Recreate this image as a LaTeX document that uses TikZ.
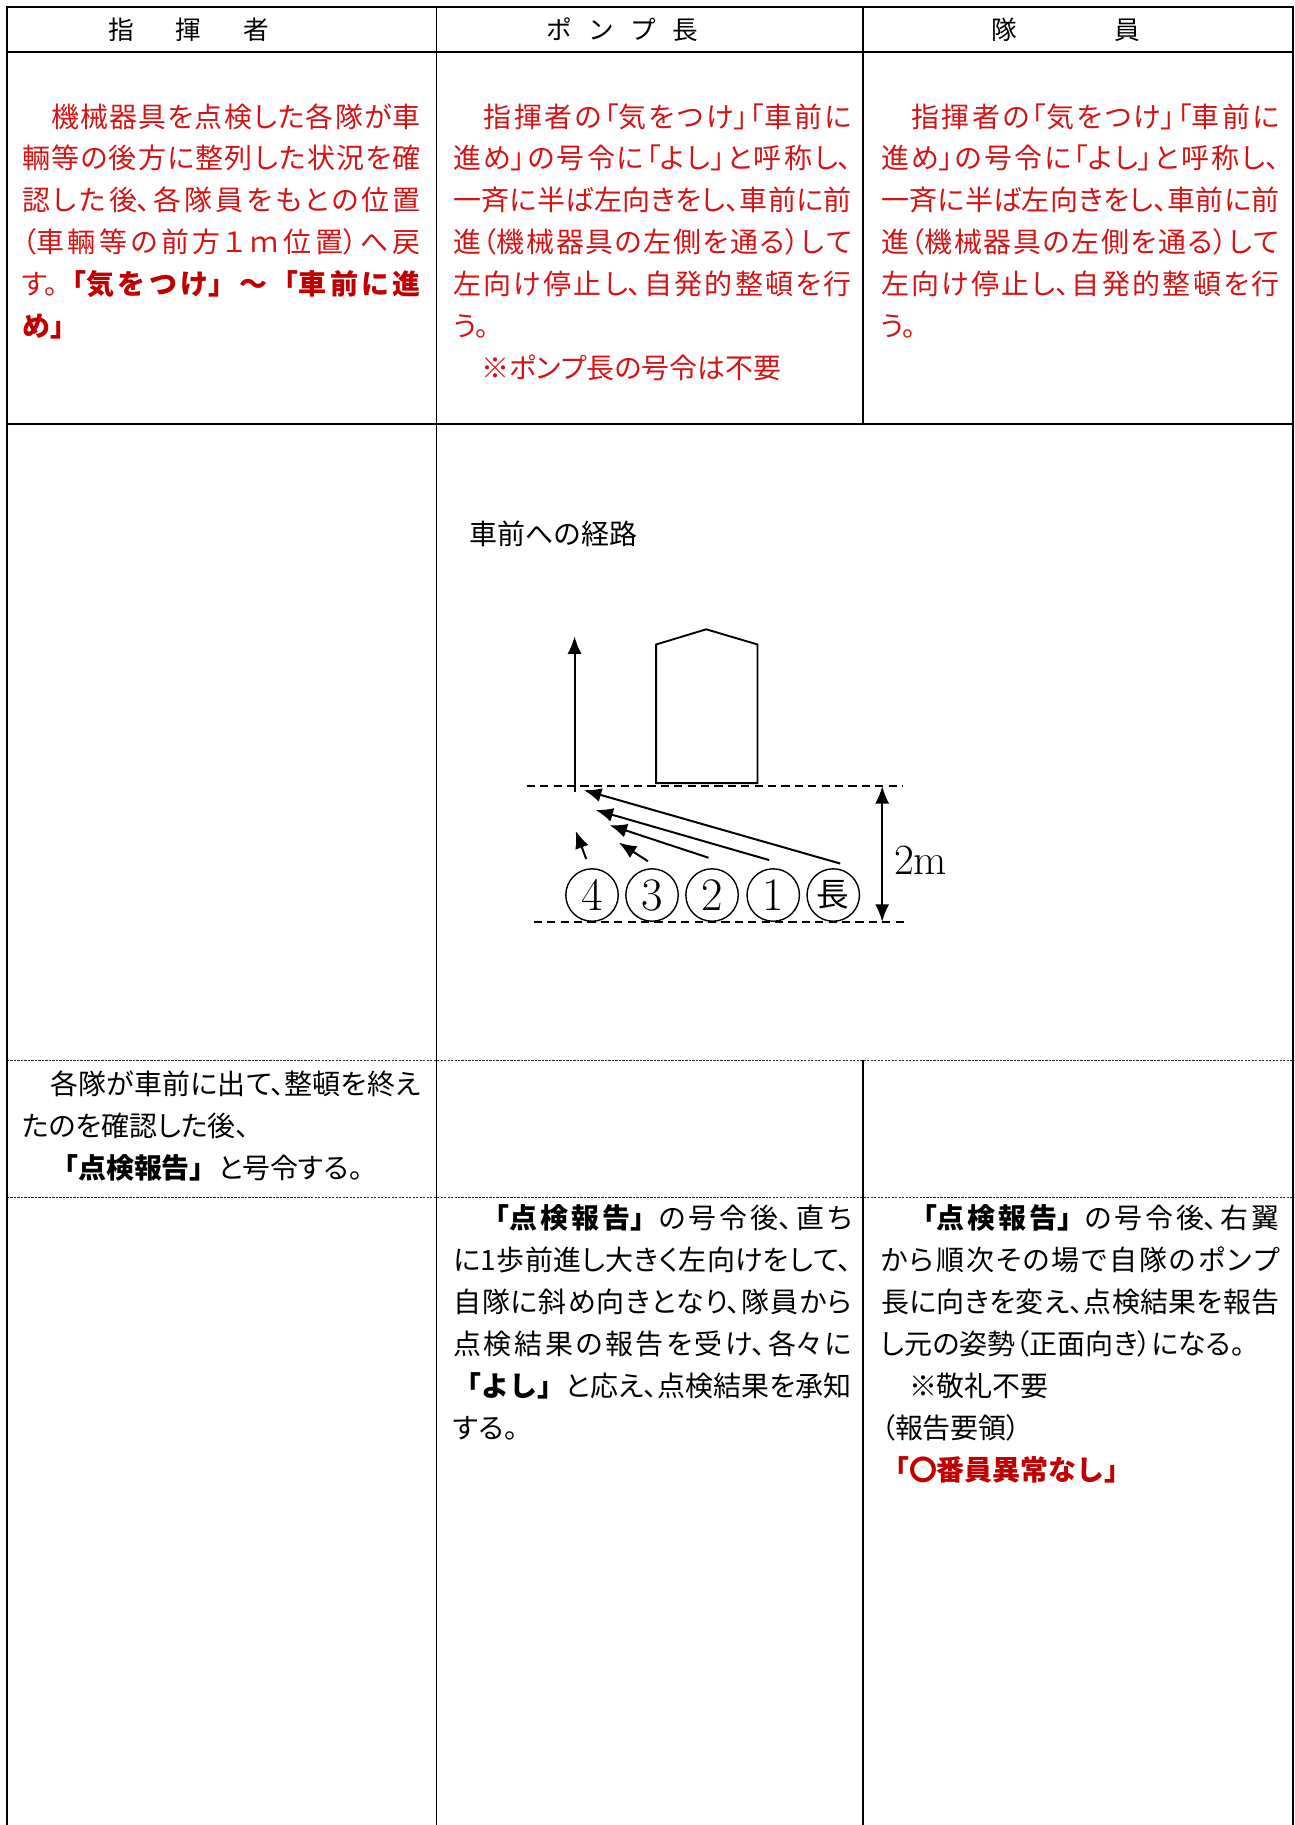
\documentclass[tikz,border=0pt]{standalone}
\usepackage{fontspec}
\usetikzlibrary{arrows.meta}
\newfontfamily\jp{Noto Sans CJK JP}[RawFeature=+palt]
\newfontfamily\jpf{Noto Sans CJK JP}
\definecolor{txtred}{RGB}{212,20,20}
\definecolor{bred}{RGB}{192,0,0}
\newcommand\bd[1]{{\jpf\bfseries #1}}
\newcommand\jpsetup{\jp\fontsize{24}{36}\selectfont
  \XeTeXlinebreaklocale "ja"\XeTeXlinebreakskip=0pt plus 8pt\relax
  \XeTeXlinebreakpenalty=10000\relax
  \parindent=0pt\parfillskip=0pt\leftskip=0pt\rightskip=0pt
  \tolerance=10000\hbadness=10000\hfuzz=60pt\lineskiplimit=-100pt}
\newcommand\JL[1]{#1\par}
\newcommand\LL[1]{#1\hfill\mbox{}\par}
\tikzset{
  body/.style={anchor=base west, inner sep=0pt, outer sep=0pt, text width=342pt},
  grid/.style={line width=1.6pt},
  sep/.style={line width=0.7pt, dash pattern=on 2pt off 1pt, black!85},
  dline/.style={line width=1.2pt, dash pattern=on 7pt off 4.5pt},
  arr/.style={line width=1.7pt, -{Latex[length=15pt,width=12pt]}},
  mem/.style={circle, draw, line width=1.2pt, minimum size=45pt, inner sep=0pt},
  head/.style={anchor=base, inner sep=0pt, font=\jpf\fontsize{22}{22}\selectfont}
}
\begin{document}
\begin{tikzpicture}[x=1pt,y=-1pt]
\useasboundingbox (0,0) rectangle (1110.4,1566);
\fill[white] (0,0) rectangle (1110.4,1566);
% table
\draw[grid] (6,1566) -- (6,6.3) -- (1109.2,6.3) -- (1109.2,1566);
\draw[grid] (374.6,6.3) -- (374.6,1566);
\draw[grid] (740.5,6.3) -- (740.5,364);
\draw[grid] (740.5,909.8) -- (740.5,1566);
\draw[grid] (6,44.7) -- (1109.2,44.7);
\draw[grid] (6,364) -- (1109.2,364);
\draw[sep] (6,909.8) -- (1109.2,909.8);
\draw[sep] (6,1027.5) -- (1109.2,1027.5);
% headers
\node[head] (h1) at (162,34) {指\hspace{36pt}揮\hspace{36pt}者};
\node[head] (h2) at (534,34) {ポ\hspace{14pt}ン\hspace{14pt}プ\hspace{14pt}長};
\node[head] (h3) at (914.5,34) {隊\hspace{83pt}員};
% row 1
\node[body, text=txtred] (r1c1) at (19,109) {\jpsetup
\JL{　機械器具を点検した各隊が車}
\JL{輛等の後方に整列した状況を確}
\JL{認した後、各隊員をもとの位置}
\JL{（車輛等の前方１ｍ位置）へ戻}
\JL{す。\bd{\color{bred}「気をつけ」～「車前に進}}
\LL{\bd{\color{bred}め」}}};
\node[body, text=txtred] (r1c2) at (389,109) {\jpsetup
\JL{　指揮者の「気をつけ」「車前に}
\JL{進め」の号令に「よし」と呼称し、}
\JL{一斉に半ば左向きをし、車前に前}
\JL{進（機械器具の左側を通る）して}
\JL{左向け停止し、自発的整頓を行}
\LL{う。}
\LL{　※ポンプ長の号令は不要}};
\node[body, text=txtred] (r1c3) at (756,109) {\jpsetup
\JL{　指揮者の「気をつけ」「車前に}
\JL{進め」の号令に「よし」と呼称し、}
\JL{一斉に半ば左向きをし、車前に前}
\JL{進（機械器具の左側を通る）して}
\JL{左向け停止し、自発的整頓を行}
\LL{う。}};
% diagram
\node[anchor=base west, inner sep=0pt, font=\jp\fontsize{24}{24}\selectfont] (title) at (403,467) {車前への経路};
\draw[line width=1.6pt] (563,672) -- (650,672) -- (650,553) -- (606,540) -- (563,553) -- cycle;
\draw[dline] (452,674.5) -- (775,674.5);
\draw[dline] (458,791) -- (777,791);
\coordinate (d1) at (757,674.5);
\coordinate (d2) at (757,791);
\draw[line width=1.7pt, {Latex[length=15pt,width=12pt]}-{Latex[length=15pt,width=12pt]}] (d1) -- (d2);
\node[anchor=west, inner sep=0pt, font=\fontsize{37}{37}\selectfont] (lbl) at (767,738) {2m};
\coordinate (up0) at (493,680);
\coordinate (up1) at (493,546);
\draw[arr] (up0) -- (up1);
\node[mem, font=\fontsize{40}{40}\selectfont] (m4) at (508,768) {4};
\node[mem, font=\fontsize{40}{40}\selectfont] (m3) at (559.5,768) {3};
\node[mem, font=\fontsize{40}{40}\selectfont] (m2) at (611,768) {2};
\node[mem, font=\fontsize{40}{40}\selectfont] (m1) at (663.5,768) {1};
\node[mem, font=\jpf\fontsize{28}{28}\selectfont] (m0) at (715,768) {長};
\coordinate (s0) at (721,741); \coordinate (e0) at (501,678);
\coordinate (s1) at (660,738); \coordinate (e1) at (511,695);
\coordinate (s2) at (608,736); \coordinate (e2) at (523,708);
\coordinate (s3) at (556,739); \coordinate (e3) at (531,723);
\coordinate (s4) at (503,737); \coordinate (e4) at (494,713);
\draw[arr] (s0) -- (e0);
\draw[arr] (s1) -- (e1);
\draw[arr] (s2) -- (e2);
\draw[arr] (s3) -- (e3);
\draw[arr] (s4) -- (e4);
% row 3
\node[body] (r3c1) at (19,939) {\jpsetup
\JL{　各隊が車前に出て、整頓を終え}
\LL{たのを確認した後、}
\LL{　\bd{「点検報告」}と号令する。}};
% row 4
\node[body] (r4c2) at (389,1054) {\jpsetup
\JL{　\bd{「点検報告」}の号令後、直ち}
\JL{に1歩前進し大きく左向けをして、}
\JL{自隊に斜め向きとなり、隊員から}
\JL{点検結果の報告を受け、各々に}
\JL{\bd{「よし」}と応え、点検結果を承知}
\LL{する。}};
\node[body] (r4c3) at (756,1054) {\jpsetup
\JL{　\bd{「点検報告」}の号令後、右翼}
\JL{から順次その場で自隊のポンプ}
\JL{長に向きを変え、点検結果を報告}
\LL{し元の姿勢（正面向き）になる。}
\LL{　※敬礼不要}
\LL{（報告要領）}
\LL{\bd{\color{bred}「〇番員異常なし」}}};
\end{tikzpicture}
\end{document}
